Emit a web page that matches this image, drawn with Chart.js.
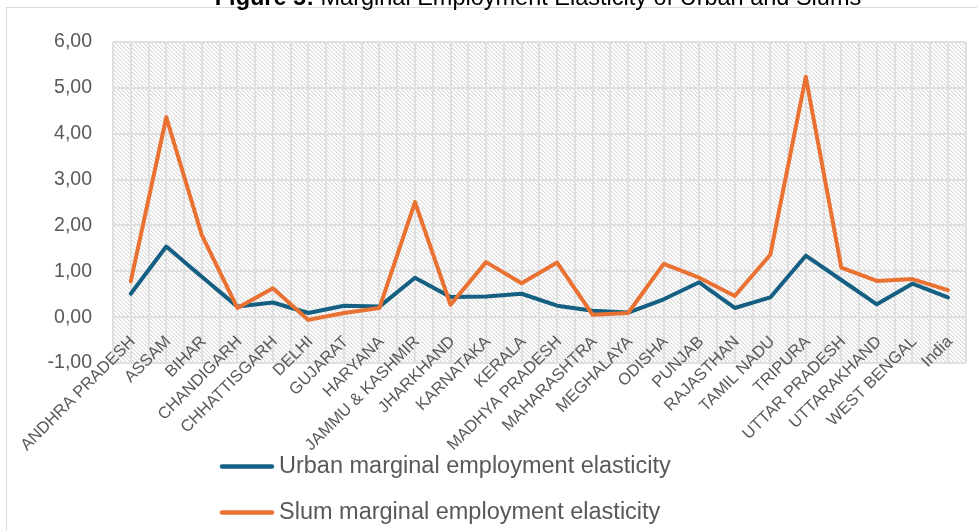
<!DOCTYPE html>
<html>
<head>
<meta charset="utf-8">
<script src="https://cdn.jsdelivr.net/npm/chart.js@4.4.1/dist/chart.umd.min.js"></script>
<style>
  html, body { margin: 0; padding: 0; background: #fff; }
  #wrap { position: relative; width: 977px; height: 531px; }
</style>
</head>
<body>
<div id="wrap"><canvas id="elasticityChart"></canvas></div>
<script>
// Data
const states = [
    'ANDHRA PRADESH', 'ASSAM', 'BIHAR', 'CHANDIGARH', 'CHHATTISGARH', 'DELHI',
    'GUJARAT', 'HARYANA', 'JAMMU & KASHMIR', 'JHARKHAND', 'KARNATAKA', 'KERALA',
    'MADHYA PRADESH', 'MAHARASHTRA', 'MEGHALAYA', 'ODISHA', 'PUNJAB', 'RAJASTHAN',
    'TAMIL NADU', 'TRIPURA', 'UTTAR PRADESH', 'UTTARAKHAND', 'WEST BENGAL', 'India'
];
const urbanElasticity = [
    0.51, 1.54, 0.88, 0.23, 0.32, 0.09, 0.25, 0.23, 0.86, 0.44, 0.45, 0.51,
    0.25, 0.14, 0.10, 0.39, 0.76, 0.20, 0.43, 1.34, 0.81, 0.28, 0.73, 0.43
];
const slumElasticity = [
    0.78, 4.36, 1.79, 0.20, 0.63, -0.06, 0.09, 0.20, 2.51, 0.27, 1.20, 0.74,
    1.19, 0.05, 0.09, 1.16, 0.86, 0.46, 1.36, 5.24, 1.08, 0.79, 0.83, 0.59
];
const seriesNames = ['Urban marginal employment elasticity', 'Slum marginal employment elasticity'];
const yMin = -1;
const yMax = 6;

const URBAN_COLOR = '#156082';
const SLUM_COLOR = '#E97132';
const TEXT_COLOR = '#595959';
const GRID_COLOR = '#e0e0e0';
const FONT = '"Liberation Sans", Arial, sans-serif';

// diagonal hatch used by the plot area
function makeHatch() {
    const c = document.createElement('canvas');
    c.width = 4;
    c.height = 4;
    const g = c.getContext('2d');
    g.fillStyle = '#ffffff';
    g.fillRect(0, 0, 4, 4);
    for (let i = 0; i < 4; i++) {
        g.fillStyle = '#dadada';
        g.fillRect(i, i, 1, 1);
        g.fillStyle = '#efefef';
        g.fillRect((i + 1) % 4, i, 1, 1);
    }
    return g.createPattern(c, 'repeat');
}

const framePlugin = {
    id: 'frame',
    beforeDraw(chart) {
        const ctx = chart.ctx;
        const area = chart.chartArea;
        ctx.save();
        ctx.fillStyle = '#ffffff';
        ctx.fillRect(0, 0, chart.width, chart.height);

        // outer chart border
        ctx.strokeStyle = '#d9d9d9';
        ctx.lineWidth = 1;
        ctx.strokeRect(6.5, 7.5, chart.width + 20, chart.height + 20);

        // title, cut at the top edge
        ctx.fillStyle = '#000000';
        ctx.textBaseline = 'alphabetic';
        ctx.textAlign = 'left';
        const boldPart = 'Figure 5:';
        const rest = ' Marginal Employment Elasticity of Urban and Slums';
        ctx.font = 'bold 23.5px ' + FONT;
        const w1 = ctx.measureText(boldPart).width;
        ctx.font = '23.5px ' + FONT;
        const w2 = ctx.measureText(rest).width;
        const startX = 538 - (w1 + w2) / 2;
        ctx.font = 'bold 23.5px ' + FONT;
        ctx.fillText(boldPart, startX, 5);
        ctx.font = '23.5px ' + FONT;
        ctx.fillText(rest, startX + w1, 5);

        // hatched plot area
        ctx.fillStyle = makeHatch();
        ctx.fillRect(area.left, area.top, area.right - area.left, area.bottom - area.top);
        ctx.restore();
    },
    afterDraw(chart) {
        // two-row legend under the axis labels
        const ctx = chart.ctx;
        const rows = [466.5, 512.5];
        ctx.save();
        chart.data.datasets.forEach((ds, i) => {
            const y = rows[i];
            ctx.strokeStyle = ds.borderColor;
            ctx.lineWidth = 4.5;
            ctx.lineCap = 'round';
            ctx.beginPath();
            ctx.moveTo(222, y);
            ctx.lineTo(272, y);
            ctx.stroke();
            ctx.fillStyle = TEXT_COLOR;
            ctx.font = '23.5px ' + FONT;
            ctx.textBaseline = 'middle';
            ctx.textAlign = 'left';
            ctx.fillText(ds.label, 279, y);
        });
        ctx.restore();
    }
};

const ctx = document.getElementById('elasticityChart').getContext('2d');
new Chart(ctx, {
    type: 'line',
    data: {
        labels: states,
        datasets: [{
            label: seriesNames[0],
            data: urbanElasticity,
            borderColor: URBAN_COLOR,
            backgroundColor: URBAN_COLOR,
            borderWidth: 4,
            borderJoinStyle: 'round',
            borderCapStyle: 'round',
            pointRadius: 0,
            tension: 0,
            order: 1
        }, {
            label: seriesNames[1],
            data: slumElasticity,
            borderColor: SLUM_COLOR,
            backgroundColor: SLUM_COLOR,
            borderWidth: 4,
            borderJoinStyle: 'round',
            borderCapStyle: 'round',
            pointRadius: 0,
            tension: 0,
            order: 0
        }]
    },
    options: {
        responsive: true,
        maintainAspectRatio: false,
        animation: false,
        layout: {
            padding: { left: 0, top: 42, right: 4.5, bottom: 168 }
        },
        scales: {
            x: {
                type: 'category',
                position: { y: 0 },
                offset: true,
                grid: { display: true, offset: false, color: GRID_COLOR, lineWidth: 2, drawTicks: false },
                border: { display: false },
                ticks: {
                    color: TEXT_COLOR,
                    font: { family: FONT, size: 16.5 },
                    minRotation: 45,
                    maxRotation: 45,
                    autoSkip: false,
                    padding: 15,
                    labelOffset: 2
                }
            },
            x2: {
                type: 'category',
                labels: states,
                position: { y: 0 },
                offset: true,
                grid: { display: true, offset: true, color: GRID_COLOR, lineWidth: 2, drawTicks: false },
                border: { display: false },
                ticks: { display: false }
            },
            y: {
                min: yMin,
                max: yMax,
                afterFit(scale) { scale.width = 113; },
                grid: { color: GRID_COLOR, lineWidth: 2, drawTicks: false },
                border: { display: false },
                ticks: {
                    stepSize: 1,
                    color: TEXT_COLOR,
                    font: { family: FONT, size: 19.5 },
                    padding: 21,
                    callback: v => v.toFixed(2).replace('.', ',')
                }
            }
        },
        plugins: {
            legend: { display: false },
            title: { display: false },
            tooltip: { enabled: false }
        }
    },
    plugins: [framePlugin]
});
</script>
</body>
</html>
